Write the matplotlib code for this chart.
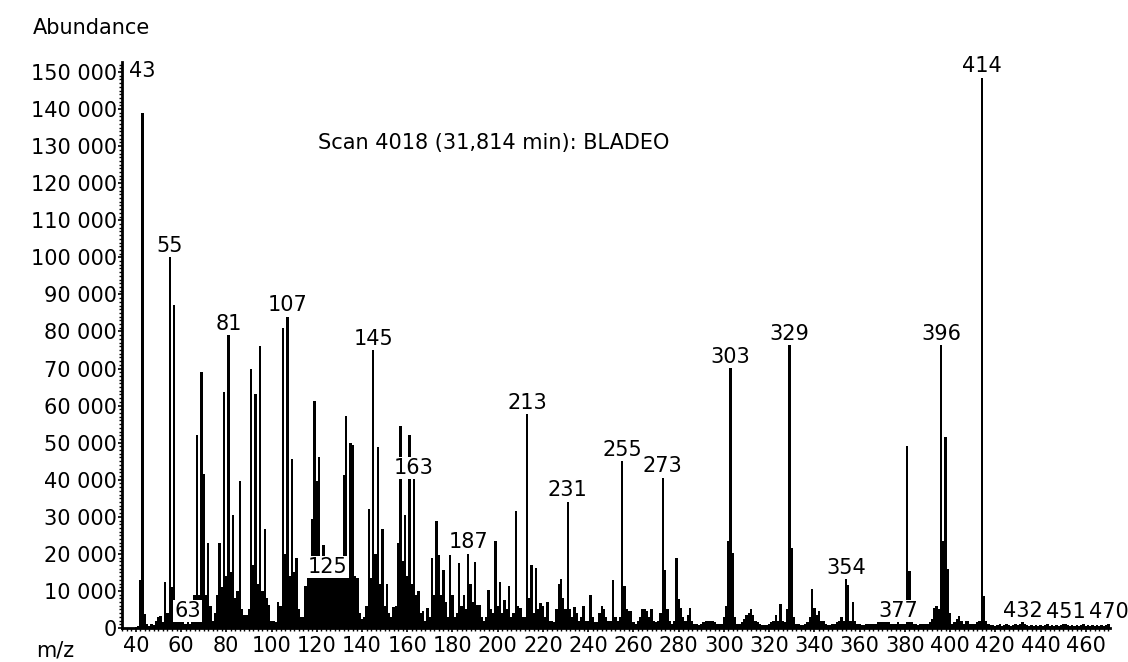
import matplotlib
matplotlib.use("Agg")
import matplotlib.pyplot as plt
import numpy as np
from matplotlib.ticker import MultipleLocator, FuncFormatter

plt.rcParams['font.family'] = ['DejaVu Sans']

# abundance per m/z, in thousands (m/z 40 .. 470)
ab_040 = [0.3, 0.5, 12.9, 139.0, 3.7, 1.0, 0.5, 1.2, 0.8, 2.0,
          3.0, 3.2, 1.5, 12.3, 4.0, 100.0, 11.0, 87.2, 3.0, 2.5,
          2.0, 1.5, 1.0, 1.5, 1.0, 5.0, 9.0, 52.0, 9.0, 69.0,
          41.5, 9.0, 23.0, 6.0, 2.0, 4.0, 9.0, 23.0, 11.0, 63.7]
ab_080 = [14.0, 79.0, 15.0, 30.4, 8.0, 10.0, 39.6, 5.0, 3.5, 3.5,
          5.0, 70.0, 17.0, 63.0, 12.0, 76.0, 10.0, 26.8, 8.0, 6.2,
          2.0, 2.0, 1.5, 7.0, 6.0, 81.0, 20.0, 84.0, 14.0, 45.5,
          15.0, 19.0, 5.0, 3.0, 3.0, 11.2, 15.0, 16.0, 29.5, 61.2]
ab_120 = [39.7, 46.0, 16.0, 22.3, 15.0, 13.5, 15.0, 14.0, 16.0, 14.0,
          15.0, 16.0, 41.2, 57.1, 15.0, 50.0, 49.5, 14.0, 13.5, 4.0,
          2.5, 3.0, 6.0, 32.0, 13.5, 75.0, 20.0, 48.7, 12.0, 26.8,
          6.0, 11.8, 4.0, 3.0, 5.8, 6.0, 23.0, 54.5, 18.0, 30.4]
ab_160 = [14.0, 52.0, 12.0, 40.2, 9.0, 9.9, 4.0, 4.6, 2.0, 5.4,
          3.0, 19.0, 9.0, 29.0, 19.8, 9.0, 15.6, 7.0, 3.0, 19.8,
          8.9, 3.0, 4.0, 17.6, 6.0, 9.0, 5.0, 20.0, 12.0, 7.0,
          17.7, 6.2, 6.2, 3.0, 2.0, 3.0, 10.3, 5.0, 4.0, 23.5]
ab_200 = [6.0, 12.3, 4.0, 7.6, 5.0, 11.2, 3.0, 4.0, 31.5, 6.0,
          5.4, 3.0, 3.0, 57.6, 8.0, 17.0, 4.0, 16.2, 5.0, 6.7,
          6.0, 3.0, 7.0, 2.0, 2.0, 1.5, 5.0, 11.8, 13.1, 8.0,
          5.0, 34.1, 5.0, 3.0, 5.8, 4.0, 2.0, 3.0, 6.0, 2.0]
ab_240 = [2.0, 8.9, 3.0, 1.5, 1.5, 4.0, 6.0, 5.0, 3.0, 2.0,
          2.0, 13.0, 3.0, 2.0, 3.0, 45.0, 11.2, 5.0, 4.5, 4.5,
          1.5, 1.0, 2.0, 3.0, 5.2, 5.2, 4.5, 3.0, 5.2, 2.0,
          1.5, 2.0, 4.0, 40.6, 15.6, 5.2, 2.0, 1.0, 2.0, 19.0]
ab_280 = [7.8, 5.4, 3.0, 2.0, 3.5, 5.4, 2.0, 1.0, 1.0, 0.8,
          1.0, 1.5, 2.0, 2.0, 2.0, 2.0, 1.5, 1.0, 1.0, 1.0,
          3.0, 6.0, 23.5, 70.1, 20.1, 3.0, 1.0, 1.0, 1.5, 2.5,
          3.5, 4.0, 5.2, 3.5, 2.0, 1.5, 1.0, 0.8, 0.8, 0.8]
ab_320 = [1.0, 1.5, 2.0, 3.5, 2.0, 6.4, 2.0, 1.5, 5.0, 76.3,
          21.7, 3.0, 1.0, 1.0, 0.8, 0.8, 1.0, 1.5, 3.0, 10.4,
          5.4, 3.5, 4.5, 2.0, 2.0, 1.0, 0.8, 0.8, 1.0, 1.0,
          1.5, 2.0, 3.0, 2.0, 13.1, 11.6, 2.0, 6.9, 2.0, 1.0]
ab_360 = [1.0, 0.8, 0.8, 1.0, 1.0, 1.0, 1.0, 1.2, 2.0, 2.0,
          2.0, 1.5, 2.0, 1.5, 1.0, 1.0, 1.0, 1.6, 1.0, 1.0,
          1.0, 49.0, 15.5, 1.5, 1.0, 1.0, 0.8, 1.0, 1.0, 1.0,
          1.0, 1.5, 2.5, 5.3, 6.0, 5.0, 76.3, 23.5, 51.4, 16.0]
ab_400 = [4.0, 1.0, 1.5, 2.5, 3.2, 2.0, 1.0, 2.0, 2.0, 1.0,
          1.0, 1.0, 1.5, 2.0, 148.5, 8.5, 2.0, 1.0, 0.8, 0.8,
          0.6, 0.8, 1.0, 0.6, 0.8, 1.0, 0.8, 0.6, 0.8, 1.0,
          0.8, 1.0, 1.5, 1.0, 0.8, 0.6, 0.8, 0.6, 0.8, 0.6]
ab_440 = [0.8, 0.6, 0.8, 1.0, 0.6, 0.8, 0.6, 0.8, 0.6, 0.8,
          1.0, 1.2, 0.8, 0.6, 0.8, 0.6, 0.8, 0.6, 0.8, 1.0,
          0.6, 0.8, 0.6, 0.8, 0.6, 0.8, 0.6, 0.8, 0.6, 0.8, 1.2]

chunks = [ab_040, ab_080, ab_120, ab_160, ab_200, ab_240,
          ab_280, ab_320, ab_360, ab_400, ab_440]
for c in chunks[:-1]:
    assert len(c) == 40
assert len(ab_440) == 31

abund = np.concatenate(chunks) * 1000
mz = np.arange(40, 40 + len(abund))

labeled = [43, 55, 63, 81, 107, 125, 145, 163, 187, 213, 231,
           255, 273, 303, 329, 354, 377, 396, 414, 432, 451, 470]

title = "Scan 4018 (31,814 min): BLADEO"
fs = 15

fig = plt.figure(figsize=(11.28, 6.62), dpi=100)
ax = fig.add_axes([122/1128, 34/662, 988/1128, 566/662])

ax.bar(mz, abund, width=1.05, color='black', linewidth=0, zorder=2)

ax.set_xlim(33.9, 470.7)
ax.set_ylim(0, 152700)

for s in ['top', 'right']:
    ax.spines[s].set_visible(False)
for s in ['left', 'bottom']:
    ax.spines[s].set_linewidth(2.0)
    ax.spines[s].set_zorder(4)

ax.set_yticks(np.arange(0, 150001, 10000))
ax.yaxis.set_major_formatter(FuncFormatter(lambda v, p: f"{int(v):,}".replace(",", " ")))
ax.yaxis.set_minor_locator(MultipleLocator(1000))
ax.set_xticks(np.arange(40, 461, 20))
ax.xaxis.set_minor_locator(MultipleLocator(2))

ax.tick_params(axis='y', which='major', length=3, width=1.2, pad=0.5, labelsize=fs)
ax.tick_params(axis='y', which='minor', length=2.5, width=1.0)
ax.tick_params(axis='x', which='major', length=3, width=1.2, pad=3, labelsize=fs)
ax.tick_params(axis='x', which='minor', length=2, width=1.0)

# peak labels with white boxes, they cover the bars behind them
for m in labeled:
    v = abund[m - 40]
    if m == 43:
        ax.text(43, 150300, "43", ha='center', va='center', fontsize=fs,
                zorder=5, clip_on=False)
        continue
    ax.annotate(str(m), (m, v), xytext=(0, 1), textcoords='offset points',
                ha='center', va='bottom', fontsize=fs, zorder=5,
                bbox=dict(boxstyle='square,pad=0.05', fc='white', ec='none'))

fig.text(33/1128, 1 - 28/662, "Abundance", ha='left', va='center', fontsize=fs)
fig.text(55/1128, 1 - 651/662, "m/z", ha='center', va='center', fontsize=fs)
fig.text(318/1128, 1 - 143/662, title, ha='left', va='center', fontsize=fs)

fig.savefig("out.png", dpi=100, facecolor='white')
